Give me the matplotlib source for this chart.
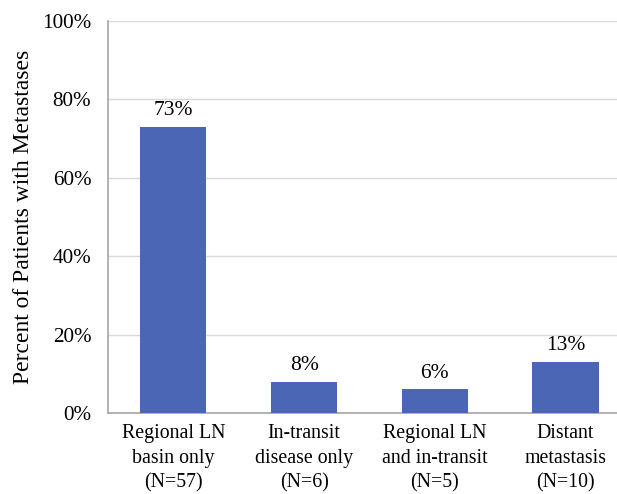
import numpy as np
import matplotlib
matplotlib.use("Agg")
import matplotlib.pyplot as plt

# metastasis site categories and share of patients (%)
categories = ['Regional LN\nbasin only\n(N=57)',
              'In-transit\ndisease only\n(N=6)',
              'Regional LN\nand in-transit\n(N=5)',
              'Distant\nmetastasis\n(N=10)']
percents = [73, 8, 6, 13]
yticks = [0, 20, 40, 60, 80, 100]

plt.rcParams['font.family'] = ['Liberation Serif', 'DejaVu Serif']

fig = plt.figure(figsize=(6.17, 4.94), dpi=100)
ax = fig.add_axes([108/617, 1 - 413/494, 509/617, 392/494])

x = np.arange(len(categories))
ax.bar(x, percents, width=0.505, color='#4A66B4', zorder=3)

# value labels on top of each bar
for xi, p in zip(x, percents):
    ax.annotate('%d%%' % p, (xi, p), xytext=(0, 5), textcoords='offset points',
                ha='center', va='bottom', fontsize=15.5)

ax.set_xlim(-0.5, 3.394)
ax.set_ylim(0, 100)
ax.set_yticks(yticks)
ax.set_yticklabels(['%d%%' % t for t in yticks], fontsize=15.2)
ax.set_xticks(x)
ax.set_xticklabels(categories, fontsize=14.3, linespacing=1.4)
ax.tick_params(axis='y', length=0, pad=12)
ax.tick_params(axis='x', length=0, pad=8)

ax.grid(axis='y', color='#D9D9D9', linewidth=1, zorder=0)
for side in ['top', 'right']:
    ax.spines[side].set_visible(False)
ax.spines['left'].set_color('#A6A6A6')
ax.spines['bottom'].set_color('#A6A6A6')
ax.spines['left'].set_linewidth(1.2)
ax.spines['bottom'].set_linewidth(1.2)

ax.set_ylabel('Percent of Patients with Metastases', fontsize=17, labelpad=6)

fig.savefig('out.png', dpi=100)
